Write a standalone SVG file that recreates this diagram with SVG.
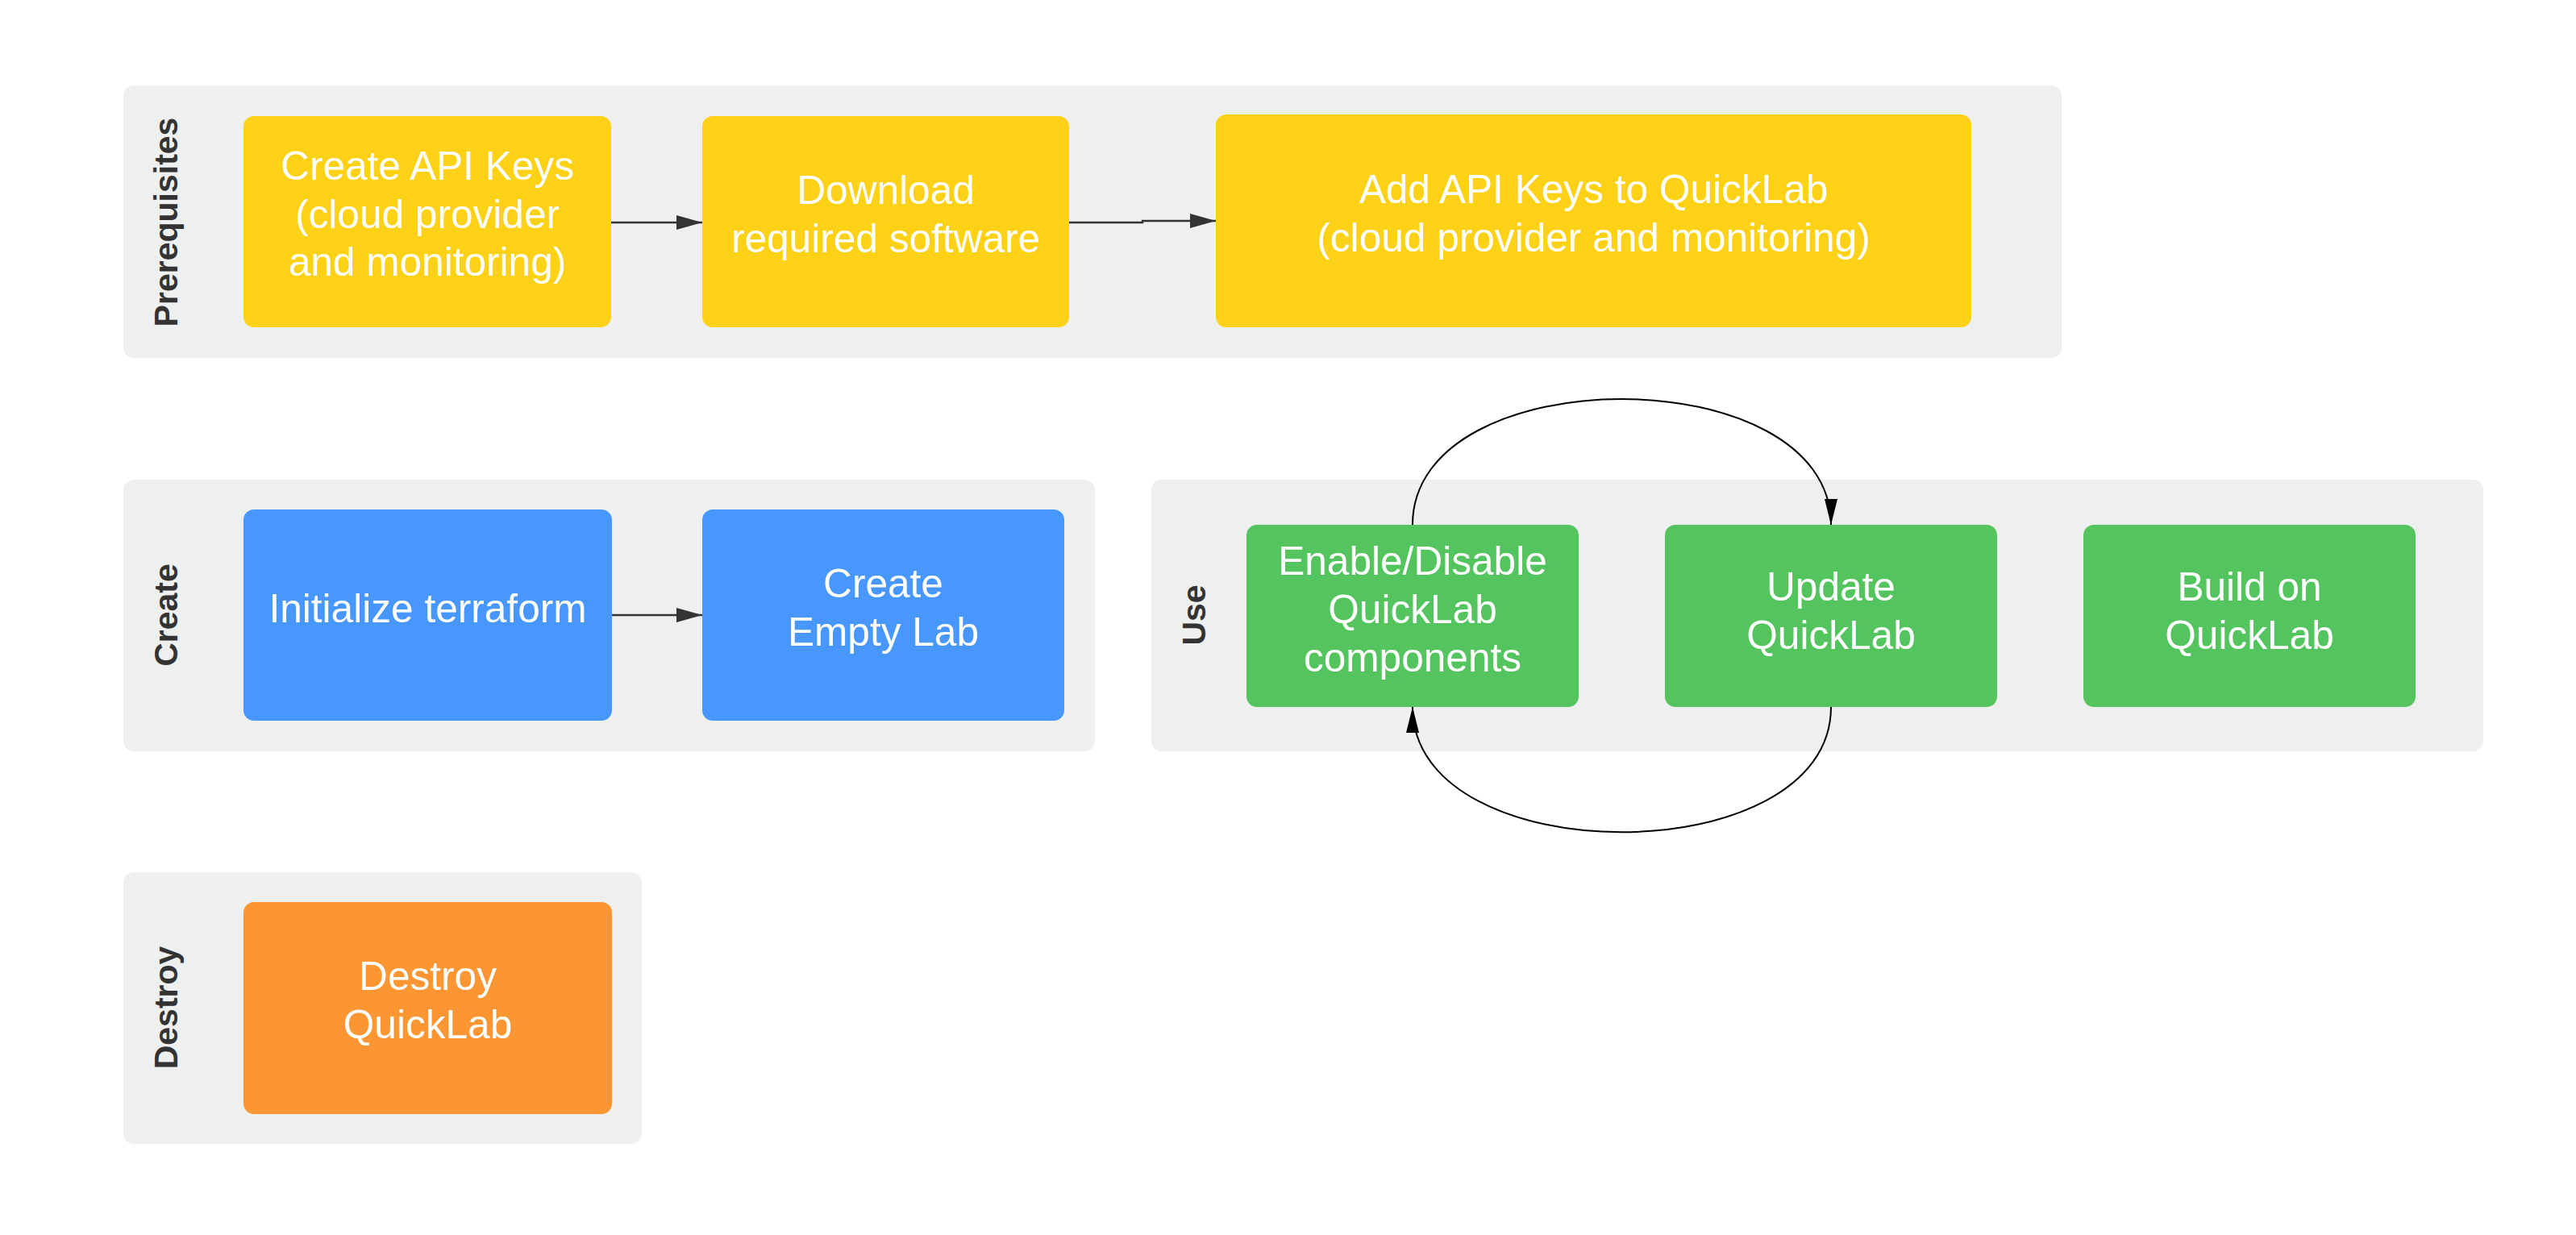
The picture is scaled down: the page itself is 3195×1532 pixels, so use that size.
<svg xmlns="http://www.w3.org/2000/svg" width="3195" height="1532" viewBox="0 0 3195 1532">
<style>
.lane{fill:#EEF0EF;}
.lbl{font-family:"Liberation Sans",Arial,sans-serif;font-weight:bold;font-size:41px;fill:#333333;text-anchor:middle;}
.node text{font-family:"Liberation Sans",Arial,sans-serif;font-size:49.6px;fill:#FFFFFF;text-anchor:middle;}
.y{fill:#FCD116;}
.b{fill:#4797FE;}
.g{fill:#54C45E;}
.o{fill:#FC9633;}
.conn{fill:none;stroke:#333333;stroke-width:2.5;}
.curve{fill:none;stroke:#000000;stroke-width:2;}
</style>
<defs>
<marker id="ah" markerUnits="userSpaceOnUse" markerWidth="32" markerHeight="18" refX="32" refY="9" orient="auto">
<path d="M0,0 L32,9 L0,18 Z" fill="#333333"/>
</marker>
<marker id="ahk" markerUnits="userSpaceOnUse" markerWidth="32" markerHeight="16" refX="32" refY="8" orient="auto">
<path d="M0,0 L32,8 L0,16 Z" fill="#000000"/>
</marker>
</defs>
<rect width="3195" height="1532" fill="#FFFFFF"/>

<g id="lane-prerequisites">
<rect class="lane" x="153" y="106" width="2404" height="338" rx="13"/>
<text class="lbl" transform="translate(220,275.5) rotate(-90)">Prerequisites</text>
</g>
<g id="lane-create">
<rect class="lane" x="153" y="595" width="1205" height="337" rx="13"/>
<text class="lbl" transform="translate(220,763) rotate(-90)">Create</text>
</g>
<g id="lane-use">
<rect class="lane" x="1428" y="595" width="1652" height="337" rx="13"/>
<text class="lbl" transform="translate(1495,763) rotate(-90)">Use</text>
</g>
<g id="lane-destroy">
<rect class="lane" x="153" y="1082" width="643" height="337" rx="13"/>
<text class="lbl" transform="translate(220,1250) rotate(-90)">Destroy</text>
</g>

<g id="create-api-keys" class="node">
<rect class="y" x="302" y="144" width="456" height="262" rx="13"/>
<text x="530" y="223">Create API Keys</text>
<text x="530" y="283">(cloud provider</text>
<text x="530" y="342">and monitoring)</text>
</g>
<g id="download-software" class="node">
<rect class="y" x="871" y="144" width="455" height="262" rx="13"/>
<text x="1098.5" y="253">Download</text>
<text x="1098.5" y="313">required software</text>
</g>
<g id="add-api-keys" class="node">
<rect class="y" x="1508" y="142" width="937" height="264" rx="13"/>
<text x="1976.5" y="252">Add API Keys to QuickLab</text>
<text x="1976.5" y="312">(cloud provider and monitoring)</text>
</g>

<g id="initialize-terraform" class="node">
<rect class="b" x="302" y="632" width="457" height="262" rx="13"/>
<text x="530.5" y="772">Initialize terraform</text>
</g>
<g id="create-empty-lab" class="node">
<rect class="b" x="871" y="632" width="449" height="262" rx="13"/>
<text x="1095.5" y="741">Create</text>
<text x="1095.5" y="801">Empty Lab</text>
</g>

<g id="enable-disable" class="node">
<rect class="g" x="1546" y="651" width="412" height="226" rx="13"/>
<text x="1752" y="713">Enable/Disable</text>
<text x="1752" y="773">QuickLab</text>
<text x="1752" y="833">components</text>
</g>
<g id="update-quicklab" class="node">
<rect class="g" x="2065" y="651" width="412" height="226" rx="13"/>
<text x="2271" y="745">Update</text>
<text x="2271" y="805">QuickLab</text>
</g>
<g id="build-on-quicklab" class="node">
<rect class="g" x="2584" y="651" width="412" height="226" rx="13"/>
<text x="2790" y="745">Build on</text>
<text x="2790" y="805">QuickLab</text>
</g>

<g id="destroy-quicklab" class="node">
<rect class="o" x="302" y="1119" width="457" height="263" rx="13"/>
<text x="530.5" y="1228">Destroy</text>
<text x="530.5" y="1288">QuickLab</text>
</g>

<g id="connectors">
<path class="conn" d="M758 276 H871" marker-end="url(#ah)"/>
<path class="conn" d="M1326 276 H1417 V274 H1508" marker-end="url(#ah)"/>
<path class="conn" d="M759 763 H871" marker-end="url(#ah)"/>
<path class="curve" d="M1752 651 C1752 443 2271 443 2271 651" marker-end="url(#ahk)"/>
<path class="curve" d="M2271 877 C2271 1084 1752 1084 1752 877" marker-end="url(#ahk)"/>
</g>
</svg>
